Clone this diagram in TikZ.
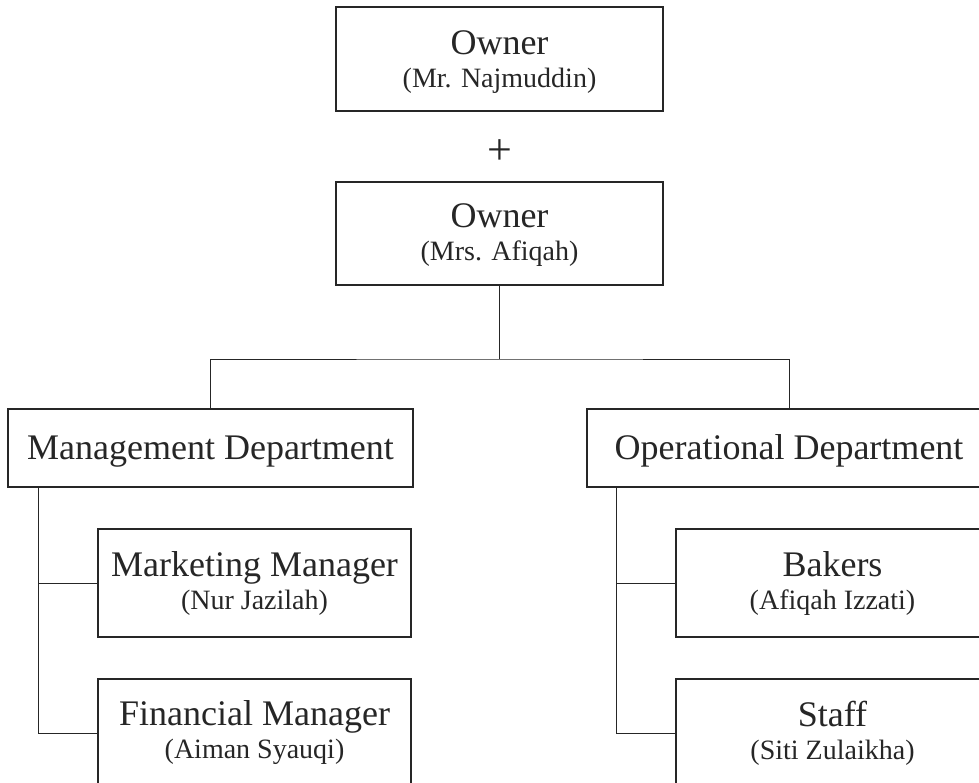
\documentclass[tikz,border=0pt]{standalone}
\usepackage{fontspec}
\setmainfont{Liberation Serif}
\newcommand\bigsz{\fontsize{36}{33}\selectfont}
\newcommand\subsz{\fontsize{28}{33}\selectfont}
\definecolor{ink}{HTML}{262626}
\tikzset{
  orgbox/.style={draw=ink, line width=1.5pt, inner sep=0pt, align=center,
    text=ink, font=\bigsz, rectangle},
  deptbox/.style={orgbox, text height=30pt, text depth=8pt},
  link/.style={draw=ink, line width=1pt},
}
\begin{document}
\begin{tikzpicture}[x=1pt,y=-1pt]
\useasboundingbox (0,0) rectangle (979,783);
\fill[white] (0,0) rectangle (979,783);
\clip (0,0) rectangle (979,783);

\node[orgbox, minimum width=327pt, minimum height=104pt] (own1) at (499.5,59)
  {\rule{0pt}{29pt}Owner\\{\subsz (Mr. Najmuddin)}};
\node[text=ink, font=\fontsize{44}{44}\selectfont, inner sep=0pt] (plus) at (499.5,152) {+};
\node[orgbox, minimum width=327pt, minimum height=103pt] (own2) at (499.5,233.5)
  {\rule{0pt}{26pt}Owner\\{\subsz (Mrs. Afiqah)}};

\node[deptbox, minimum width=405pt, minimum height=78pt] (mgmt) at (210.5,448)
  {Management Department};
\node[deptbox, minimum width=404pt, minimum height=78pt] (ops) at (789,448)
  {Operational Department};

\node[orgbox, minimum width=313pt, minimum height=108pt] (mkt) at (254.5,583)
  {Marketing Manager\\{\subsz (Nur Jazilah)}};
\node[orgbox, minimum width=313pt, minimum height=108pt] (fin) at (254.5,733)
  {Financial Manager\\{\subsz (Aiman Syauqi)}};
\node[orgbox, minimum width=313pt, minimum height=108pt] (bak) at (832.5,583)
  {Bakers\\{\subsz (Afiqah Izzati)}};
\node[orgbox, minimum width=313pt, minimum height=108pt] (stf) at (832.5,733)
  {Staff\\{\subsz (Siti Zulaikha)}};

% top connectors
\coordinate (j) at (499.5,359);
\draw[link] (own2.south) -- (j);
\draw[link] (mgmt.north) |- (j) -| (ops.north);

% management branch
\coordinate (mb) at ([xshift=31pt]mgmt.south west);
\draw[link] (mb) |- (fin.west);
\draw[link] (mkt.west) -- (mkt.west -| mb);

% operational branch
\coordinate (ob) at ([xshift=30pt]ops.south west);
\draw[link] (ob) |- (stf.west);
\draw[link] (bak.west) -- (bak.west -| ob);
\end{tikzpicture}
\end{document}
